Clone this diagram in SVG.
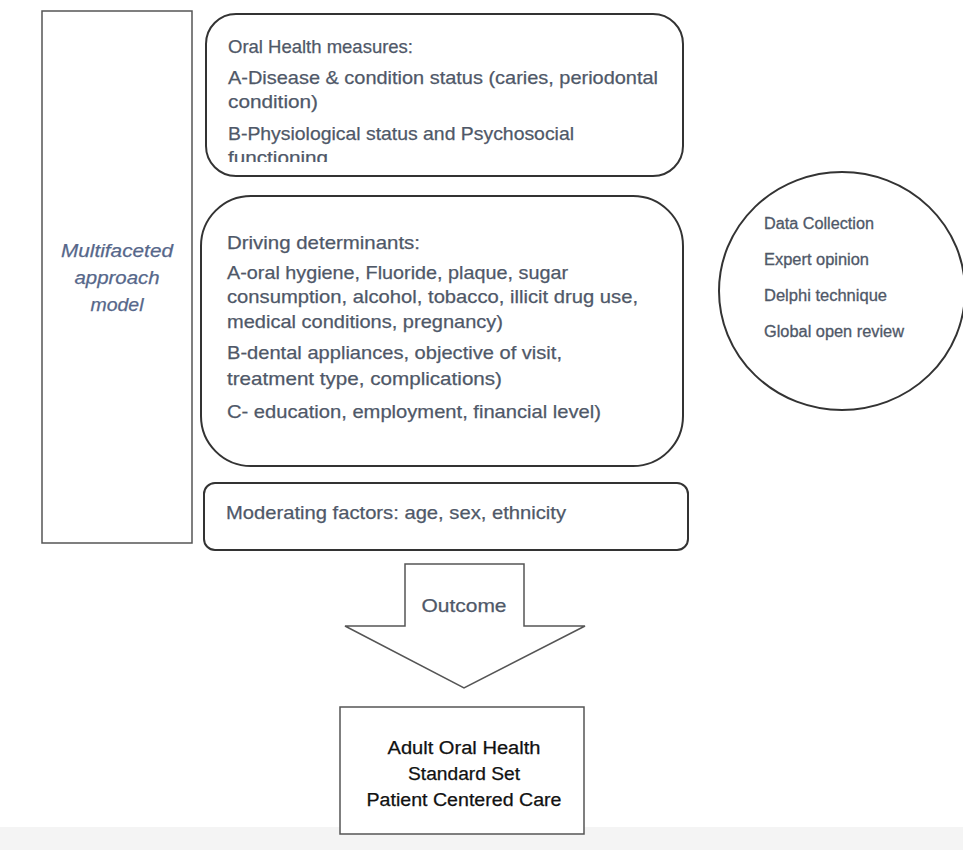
<svg xmlns="http://www.w3.org/2000/svg" width="963" height="850" viewBox="0 0 963 850">
<style>
.t{font-family:"Liberation Sans",Arial,sans-serif;font-size:19px;fill:#4f5868;stroke:#4f5868;stroke-width:0.25}
.s{font-family:"Liberation Sans",Arial,sans-serif;font-size:16px;fill:#4f5868;stroke:#4f5868;stroke-width:0.3}
.i{font-family:"Liberation Sans",Arial,sans-serif;font-size:19px;font-style:italic;fill:#56678a;stroke:#56678a;stroke-width:0.25}
.b{font-family:"Liberation Sans",Arial,sans-serif;font-size:18px;fill:#111;stroke:#111;stroke-width:0.25}
.box{fill:#fff;stroke:#333;stroke-width:2}
.thin{fill:#fff;stroke:#555;stroke-width:1.5}
</style>
<defs>
<clipPath id="clipTop"><rect x="206" y="14" width="477" height="148"/></clipPath>
</defs>
<rect x="0" y="0" width="963" height="850" fill="#fff"/>
<rect x="0" y="827" width="963" height="23" fill="#f4f4f4"/>

<g id="model">
<rect class="thin" x="42" y="11" width="150" height="532"/>
<text class="i" text-anchor="middle"><tspan x="117" y="257" textLength="112" lengthAdjust="spacingAndGlyphs">Multifaceted</tspan><tspan x="117" y="284" textLength="85" lengthAdjust="spacingAndGlyphs">approach</tspan><tspan x="117" y="311" textLength="53" lengthAdjust="spacingAndGlyphs">model</tspan></text>
</g>

<g id="oral-health">
<rect class="box" x="206" y="14" width="477" height="162" rx="30"/>
<g clip-path="url(#clipTop)">
<text class="t"><tspan x="228" y="53" textLength="185" lengthAdjust="spacingAndGlyphs">Oral Health measures:</tspan><tspan x="228" y="84" textLength="430" lengthAdjust="spacingAndGlyphs">A-Disease &amp; condition status (caries, periodontal</tspan><tspan x="228" y="108" textLength="90" lengthAdjust="spacingAndGlyphs">condition)</tspan><tspan x="228" y="140" textLength="346" lengthAdjust="spacingAndGlyphs">B-Physiological status and Psychosocial</tspan><tspan x="228" y="164" textLength="100" lengthAdjust="spacingAndGlyphs">functioning</tspan></text>
</g>
</g>

<g id="determinants">
<rect class="box" x="201" y="196" width="482" height="270" rx="50"/>
<text class="t"><tspan x="227" y="249" textLength="193" lengthAdjust="spacingAndGlyphs">Driving determinants:</tspan><tspan x="227" y="279" textLength="341" lengthAdjust="spacingAndGlyphs">A-oral hygiene, Fluoride, plaque, sugar</tspan><tspan x="227" y="303" textLength="411" lengthAdjust="spacingAndGlyphs">consumption, alcohol, tobacco, illicit drug use,</tspan><tspan x="227" y="328" textLength="276" lengthAdjust="spacingAndGlyphs">medical conditions, pregnancy)</tspan><tspan x="227" y="359" textLength="335" lengthAdjust="spacingAndGlyphs">B-dental appliances, objective of visit,</tspan><tspan x="227" y="385" textLength="275" lengthAdjust="spacingAndGlyphs">treatment type, complications)</tspan><tspan x="227" y="418" textLength="374" lengthAdjust="spacingAndGlyphs">C- education, employment, financial level)</tspan></text>
</g>

<g id="moderating">
<rect class="box" x="204" y="483" width="484" height="67" rx="11"/>
<text class="t" x="226" y="519" textLength="340" lengthAdjust="spacingAndGlyphs">Moderating factors: age, sex, ethnicity</text>
</g>

<g id="methods">
<ellipse class="box" cx="842" cy="291" rx="123" ry="119" stroke-width="1.8"/>
<text class="s"><tspan x="764" y="229" textLength="110" lengthAdjust="spacingAndGlyphs">Data Collection</tspan><tspan x="764" y="265" textLength="105" lengthAdjust="spacingAndGlyphs">Expert opinion</tspan><tspan x="764" y="301" textLength="123" lengthAdjust="spacingAndGlyphs">Delphi technique</tspan><tspan x="764" y="337" textLength="140" lengthAdjust="spacingAndGlyphs">Global open review</tspan></text>
</g>

<g id="connectors">
<polygon class="thin" stroke="#444" points="405,564 524,564 524,626 585,626 464,688 345,626 405,626"/>
<text class="t" x="464" y="612" text-anchor="middle" textLength="85" lengthAdjust="spacingAndGlyphs">Outcome</text>
</g>

<g id="standard-set">
<rect class="thin" stroke="#444" x="340" y="707" width="244" height="127"/>
<text class="b" text-anchor="middle"><tspan x="464" y="754" textLength="153" lengthAdjust="spacingAndGlyphs">Adult Oral Health</tspan><tspan x="464" y="780" textLength="112" lengthAdjust="spacingAndGlyphs">Standard Set</tspan><tspan x="464" y="806" textLength="195" lengthAdjust="spacingAndGlyphs">Patient Centered Care</tspan></text>
</g>
</svg>
